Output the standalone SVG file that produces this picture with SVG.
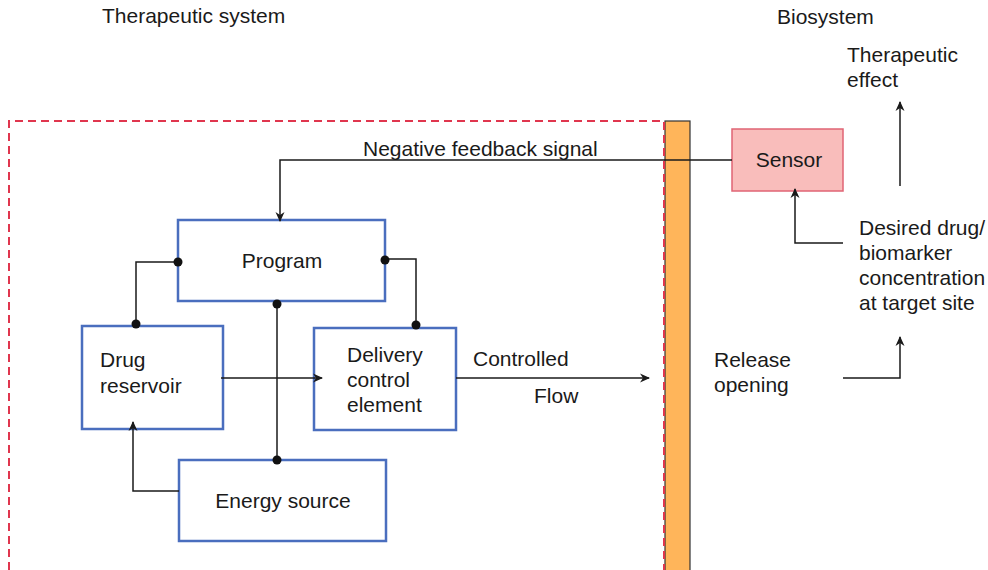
<svg xmlns="http://www.w3.org/2000/svg" width="988" height="570" viewBox="0 0 988 570">
<defs>
<marker id="ah" viewBox="0 0 10 10" refX="9" refY="5" markerWidth="10" markerHeight="10" markerUnits="userSpaceOnUse" orient="auto">
<path d="M0,0.5 L10,5 L0,9.5 L3,5 Z" fill="#1a1a1a"/>
</marker>
</defs>
<style>
text{font-family:"Liberation Sans",Arial,Helvetica,sans-serif;font-size:21px;fill:#1a1a1a}
.box{fill:#fff;stroke:#4a6ebe;stroke-width:2.5}
.ln{fill:none;stroke:#1a1a1a;stroke-width:1.5}
.ar{fill:none;stroke:#1a1a1a;stroke-width:1.5;marker-end:url(#ah)}
.dot{fill:#111}
.mid{text-anchor:middle}
</style>
<rect width="988" height="570" fill="#fff"/>
<g id="labels">
<text x="102" y="23">Therapeutic system</text>
<text x="777" y="24">Biosystem</text>
<text x="847" y="62">Therapeutic</text>
<text x="847" y="87">effect</text>
</g>
<g id="bar">
<rect x="665" y="121" width="25" height="460" fill="#ffb55a" stroke="#333" stroke-width="1.2"/>
</g>
<g id="boundary">
<path d="M9,570 L9,121 L664,121 L664,570" fill="none" stroke="#e0364e" stroke-width="2" stroke-dasharray="8,5"/>
</g>
<g id="program">
<rect class="box" x="178" y="220" width="207" height="81"/>
<text class="mid" x="282" y="268">Program</text>
</g>
<g id="drug-reservoir">
<rect class="box" x="82" y="326" width="141" height="103"/>
<text x="100" y="367">Drug</text>
<text x="100" y="393">reservoir</text>
</g>
<g id="delivery-control">
<rect class="box" x="314" y="328" width="142" height="102"/>
<text x="347" y="362">Delivery</text>
<text x="347" y="387">control</text>
<text x="347" y="412">element</text>
</g>
<g id="energy-source">
<rect class="box" x="179" y="460" width="207" height="81"/>
<text class="mid" x="283" y="508">Energy source</text>
</g>
<g id="sensor">
<rect x="732" y="129" width="111" height="62" fill="#f9bdbb" stroke="#e06474" stroke-width="1.5"/>
<text class="mid" x="789" y="167">Sensor</text>
</g>
<g id="release-opening">
<text x="714" y="367">Release</text>
<text x="714" y="392">opening</text>
</g>
<g id="target-site">
<text x="859" y="235">Desired drug/</text>
<text x="859" y="260">biomarker</text>
<text x="859" y="285">concentration</text>
<text x="859" y="310">at target site</text>
</g>
<g id="connectors">
<path class="ar" d="M732,160 L280,160 L280,221"/>
<path class="ln" d="M178,262 L136,262 L136,326"/>
<path class="ln" d="M385,259 L416,259 L416,328"/>
<path class="ln" d="M277,302 L277,460"/>
<path class="ar" d="M221,378 L322,378"/>
<path class="ar" d="M179,491 L133,491 L133,422"/>
<path class="ar" d="M456,378 L649,378"/>
<path class="ar" d="M843,378 L900,378 L900,337"/>
<path class="ar" d="M843,243 L795,243 L795,189"/>
<path class="ar" d="M900,186 L900,102"/>
<circle class="dot" cx="178" cy="262" r="4.5"/>
<circle class="dot" cx="136" cy="324" r="4.5"/>
<circle class="dot" cx="385" cy="260" r="4.5"/>
<circle class="dot" cx="416" cy="325" r="4.5"/>
<circle class="dot" cx="277" cy="304" r="4.5"/>
<circle class="dot" cx="277" cy="460" r="4.5"/>
<text x="363" y="156">Negative feedback signal</text>
<text x="473" y="366">Controlled</text>
<text x="534" y="403">Flow</text>
</g>
</svg>
